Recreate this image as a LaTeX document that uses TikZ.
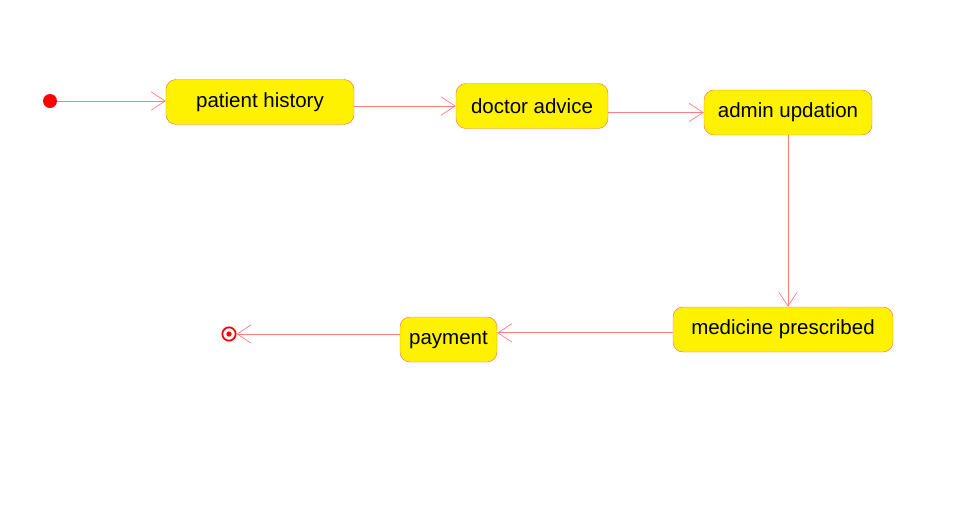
\documentclass[tikz,border=0pt]{standalone}
\usepackage{fontspec}
\setmainfont{Liberation Sans}
\usetikzlibrary{arrows.meta}
\definecolor{linered}{RGB}{255,125,125}
\definecolor{boxred}{RGB}{250,110,90}

\tikzset{
	actbox/.style={draw=boxred, fill=yellow, rounded corners=0.3cm, minimum height=1.35cm, inner sep=2pt, font=\fontsize{17.5}{21}\selectfont},
	flow/.style={draw=linered, line width=0.6pt, -{Straight Barb[length=0.42cm, width=0.55cm]}}
}

\begin{document}
\begin{tikzpicture}[x=0.03cm, y=-0.03cm]
		\useasboundingbox (0,0) rectangle (969,527);
		\node[circle, fill=red, inner sep=0pt, minimum size=0.42cm] (start) at (50,101) {};
		\node[actbox, minimum width=5.64cm] (history) at (260,102) {patient history};
		\node[actbox, minimum width=4.56cm] (doctor) at (532,106) {doctor advice};
		\node[actbox, minimum width=5.04cm] (admin) at (788,112.5) {admin updation};
		\node[actbox, minimum width=6.6cm] (medicine) at (783,329.5) {medicine prescribed};
		\node[actbox, minimum width=2.91cm] (payment) at (448.5,339.5) {payment};
		\node[circle, draw=red, line width=1.5pt, inner sep=0pt, minimum size=0.4cm] (end) at (229,334) {};
		\fill[red] (end) circle (0.08cm);
		\coordinate (medout) at ([yshift=-0.1cm]medicine.west);
%		transitions
		\draw[flow] (start) -- (history.west |- start);
		\draw[flow] (history.east |- doctor.west) -- (doctor.west);
		\draw[flow] (doctor.east |- admin.west) -- (admin.west);
		\draw[flow] (admin.south) -- (admin.south |- medicine.north);
		\draw[flow] (medout) -- (payment.east |- medout);
		\draw[flow] (payment.west |- end) -- (end);
	\end{tikzpicture}
\end{document}
